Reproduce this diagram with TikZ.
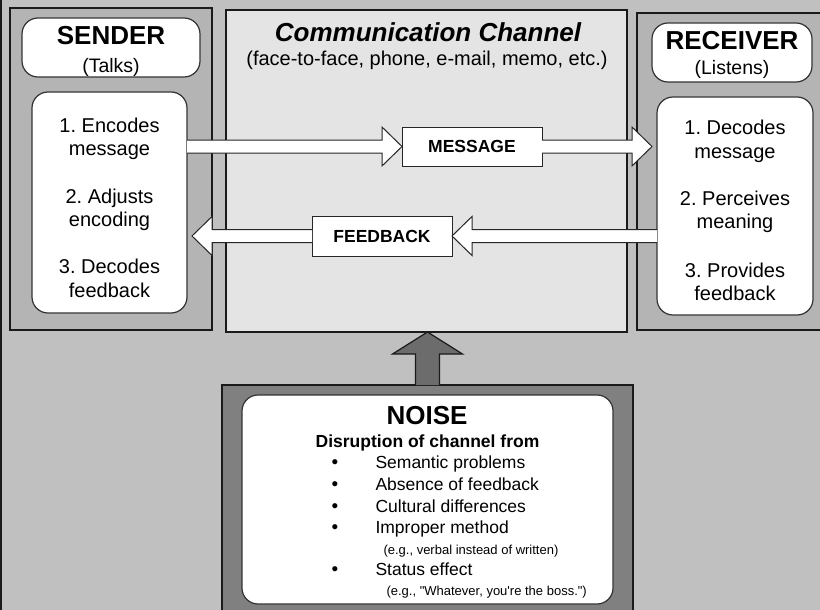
\documentclass[tikz,border=0pt]{standalone}
\usepackage{fontspec}
\setmainfont{Liberation Sans}
\usetikzlibrary{calc}
\definecolor{bgc}{HTML}{C0C0C0}
\definecolor{sidefill}{HTML}{B4B4B4}
\definecolor{chanfill}{HTML}{E4E4E4}
\definecolor{noisefill}{HTML}{808080}
\definecolor{noisearrow}{HTML}{6C6C6C}
\definecolor{edgec}{HTML}{1A1A1A}
\newcommand\harrow[3]{%
  \draw[blockarrow] ($(#1)+(0,-6.5)$) -- ($(#2)+(#3,-6.5)$) -- ($(#2)+(#3,-19.5)$) -- (#2)
    -- ($(#2)+(#3,19.5)$) -- ($(#2)+(#3,6.5)$) -- ($(#1)+(0,6.5)$);}
\frenchspacing
\begin{document}
\begin{tikzpicture}[x=1pt,y=-1pt,
  panel/.style={draw=edgec, line width=2.4pt, anchor=north west, inner sep=0pt, outer sep=0pt},
  card/.style={draw=black!80, line width=1.2pt, fill=white, rounded corners=16pt, anchor=north west, inner sep=0pt, outer sep=0pt},
  tagbox/.style={draw=black!85, line width=1pt, fill=white, anchor=north west, inner sep=0pt, outer sep=0pt,
    font=\fontsize{17.5}{20}\selectfont\bfseries},
  blockarrow/.style={draw=black!85, line width=1pt, fill=white, line join=miter},
  noisearr/.style={draw=edgec, line width=1.2pt, fill=noisearrow, line join=miter},
  bigtitle/.style={anchor=base, font=\fontsize{26}{30}\selectfont\bfseries},
  subtitle/.style={anchor=base, font=\fontsize{19.5}{22}\selectfont},
  listtxt/.style={anchor=base, font=\fontsize{20}{24}\selectfont},
  itemtxt/.style={anchor=base west, font=\fontsize{17.5}{20}\selectfont},
  notetxt/.style={anchor=base west, font=\fontsize{13}{15}\selectfont},
  bullettxt/.style={anchor=base, font=\fontsize{19}{20}\selectfont}
]
\useasboundingbox (0,0) rectangle (820,610);
\clip (0,0) rectangle (820,610);
\fill[bgc] (0,0) rectangle (820,610);
\draw[edgec, line width=2pt] (1,-10) rectangle (840,640);

% panels
\node[panel, fill=sidefill, minimum width=202pt, minimum height=322pt] (sender) at (10,8) {};
\node[panel, fill=chanfill, minimum width=401pt, minimum height=322pt] (chan) at (226,10) {};
\node[panel, fill=sidefill, minimum width=220pt, minimum height=317pt] (receiver) at (637,13) {};

% sender
\node[card, minimum width=178pt, minimum height=59pt] (stitle) at (22,18) {};
\node[bigtitle] (stitleA) at (111,45) {SENDER};
\node[subtitle] (stitleB) at (111,73) {(Talks)};
\node[card, minimum width=155pt, minimum height=221pt] (slist) at (32,92) {};
\node[listtxt] (s1a) at (109.5,132) {1. Encodes};
\node[listtxt] (s1b) at (109.5,155) {message};
\node[listtxt] (s2a) at (109.5,203) {2. Adjusts};
\node[listtxt] (s2b) at (109.5,226) {encoding};
\node[listtxt] (s3a) at (109.5,273) {3. Decodes};
\node[listtxt] (s3b) at (109.5,297) {feedback};

% receiver
\node[card, minimum width=160pt, minimum height=59pt] (rtitle) at (652,23) {};
\node[bigtitle] (rtitleA) at (732,50) {RECEIVER};
\node[subtitle] (rtitleB) at (732,75) {(Listens)};
\node[card, minimum width=156pt, minimum height=218pt] (rlist) at (657,97) {};
\node[listtxt] (r1a) at (735,135) {1. Decodes};
\node[listtxt] (r1b) at (735,158) {message};
\node[listtxt] (r2a) at (735,205) {2. Perceives};
\node[listtxt] (r2b) at (735,228) {meaning};
\node[listtxt] (r3a) at (735,277) {3. Provides};
\node[listtxt] (r3b) at (735,300) {feedback};

% channel
\node[anchor=base, font=\fontsize{26}{30}\selectfont\bfseries\itshape] (ctitle) at (428,42) {Communication Channel};
\node[anchor=base, font=\fontsize{20}{24}\selectfont] (csub) at (427,66) {(face-to-face, phone, e-mail, memo, etc.)};

\node[tagbox, minimum width=140pt, minimum height=39pt] (msg) at (402,127) {MESSAGE};
\node[tagbox, minimum width=140pt, minimum height=40pt] (fb) at (312,216) {FEEDBACK};

\coordinate (m1s) at (slist.east |- msg.west);
\coordinate (m2t) at ($(rlist.west |- msg.east)+(-5,0)$);
\coordinate (f1s) at (rlist.west |- fb.east);
\coordinate (f2t) at ($(slist.east |- fb.west)+(5,0)$);
\harrow{m1s}{msg.west}{-20}
\harrow{msg.east}{m2t}{-20}
\harrow{f1s}{fb.east}{20}
\harrow{fb.west}{f2t}{20}

% noise
\node[panel, fill=noisefill, minimum width=411pt, minimum height=260pt] (noise) at (222,385) {};
\coordinate (ntip) at (chan.south -| noise.north);
\draw[noisearr] ($(noise.north)+(-12,0)$) -- ($(ntip)+(-12,22)$) -- ($(ntip)+(-35,22)$) -- (ntip)
   -- ($(ntip)+(35,22)$) -- ($(ntip)+(12,22)$) -- ($(noise.north)+(12,0)$);
\node[card, minimum width=371pt, minimum height=209pt] (ncard) at (242,395) {};
\node[bigtitle] (ntitle) at (427,424) {NOISE};
\node[anchor=base, font=\fontsize{17.5}{20}\selectfont\bfseries] (nsub) at (427.5,447) {Disruption of channel from};
\node[bullettxt] (b1) at (335,468) {•};
\node[bullettxt] (b2) at (335,490) {•};
\node[bullettxt] (b3) at (335,512) {•};
\node[bullettxt] (b4) at (335,533) {•};
\node[bullettxt] (b5) at (335,575) {•};
\node[itemtxt] (i1) at (372,468) {Semantic problems};
\node[itemtxt] (i2) at (372,490) {Absence of feedback};
\node[itemtxt] (i3) at (372,512) {Cultural differences};
\node[itemtxt] (i4) at (372,533) {Improper method};
\node[notetxt] (n4) at (380,554) {(e.g., verbal instead of written)};
\node[itemtxt] (i5) at (372,575) {Status effect};
\node[notetxt] (n5) at (383,595) {(e.g., \textquotedbl Whatever, you\textquotesingle re the boss.\textquotedbl)};
\end{tikzpicture}
\end{document}
